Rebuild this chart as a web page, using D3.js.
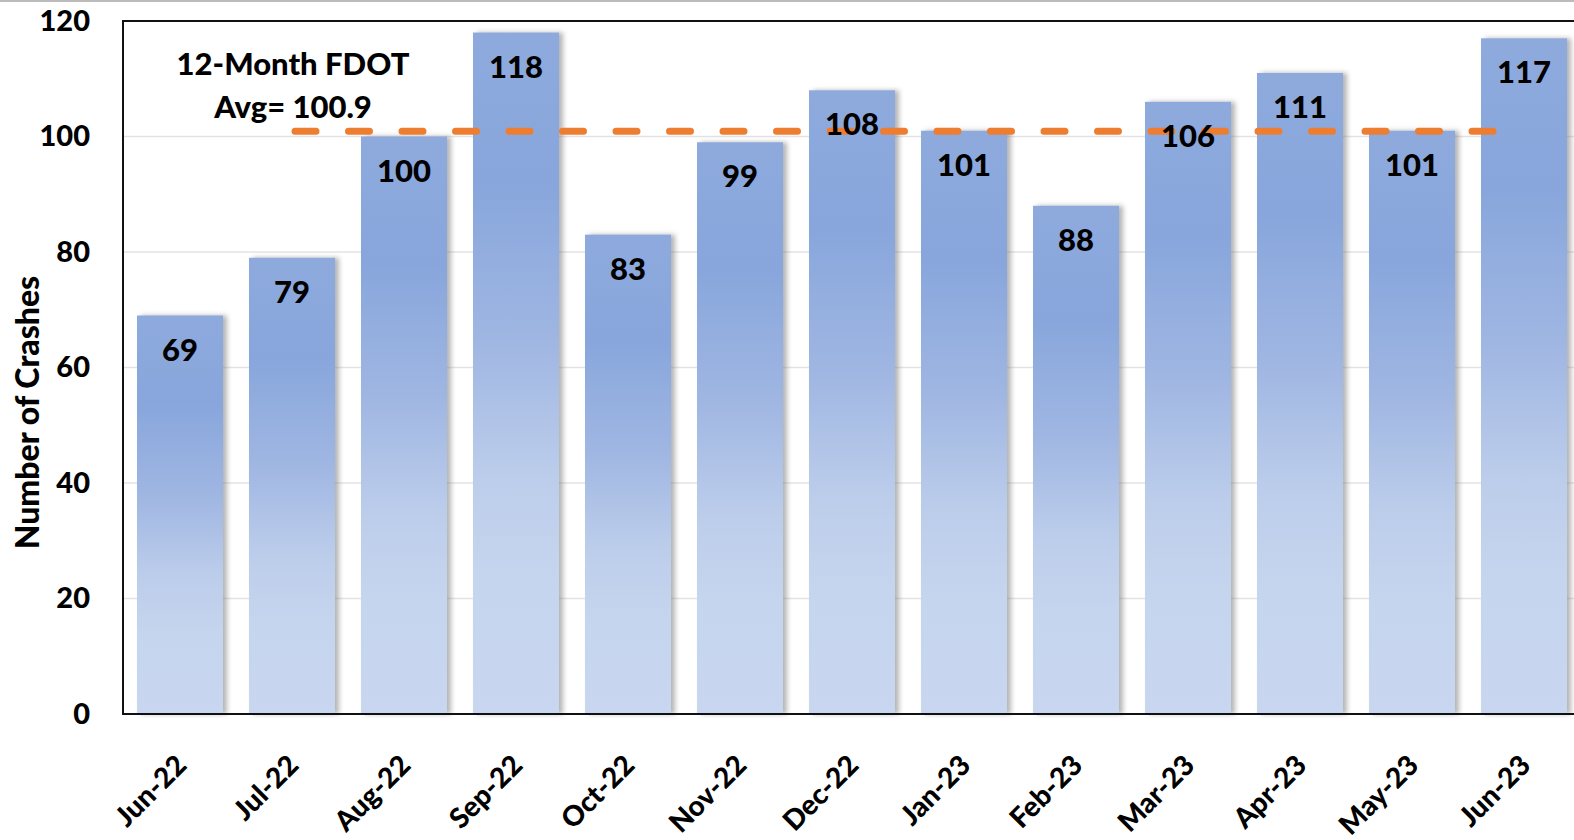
<!DOCTYPE html>
<html lang="en">

<head>
	<meta charset="utf-8">
	<style>
		body {
			margin: 0;
			background-color: white;
		}

		svg {
			font-family: 'Lato', 'Open Sans', sans-serif;
			font-weight: 900;
			display: block;
		}

		.grid line {
			stroke: #e3e3e3;
			stroke-width: 1.5px;
		}

		.frame {
			stroke: #111;
			stroke-width: 2px;
			fill: none;
		}

		.avg-line {
			stroke: #ed7d31;
			stroke-width: 7px;
			stroke-linecap: round;
			stroke-dasharray: 21, 32.5;
		}

		.bar-label,
		.note {
			font-size: 31px;
			fill: #000;
		}
	</style>
</head>

<body>
	<svg width=1574 height=840></svg>
	<script src="https://d3js.org/d3.v7.min.js"></script>
	<script>
		// data
		const months = ["Jun-22", "Jul-22", "Aug-22", "Sep-22", "Oct-22", "Nov-22", "Dec-22",
			"Jan-23", "Feb-23", "Mar-23", "Apr-23", "May-23", "Jun-23"]
		const crashes = [69, 79, 100, 118, 83, 99, 108, 101, 88, 106, 111, 101, 117]
		const yTicks = [0, 20, 40, 60, 80, 100, 120]
		const average = 100.9
		const noteLines = ["12-Month FDOT", "Avg= 100.9"]

		//basic set up
		const width = 1574
		const height = 840
		const margin = { top: 21, bottom: 126, left: 124, right: -6 }

		const svg = d3.select("svg")

		const x = d3.scaleBand()
			.domain(months)
			.range([margin.left, width - margin.right])
			.paddingInner(26 / 112)
			.paddingOuter(13 / 112)

		const y = d3.scaleLinear()
			.domain([0, 120])
			.range([height - margin.bottom, margin.top])

		// gradient + shadow used by the bars
		const defs = svg.append("defs")
		const grad = defs.append("linearGradient")
			.attr("id", "barFill")
			.attr("x1", 0).attr("y1", 0)
			.attr("x2", 0).attr("y2", 1)
		const stops = [
			[0, "#8eaadd"], [0.22, "#88a6dc"], [0.45, "#9fb6e2"],
			[0.65, "#bccdeb"], [0.8, "#c6d5ee"], [1, "#c8d7ef"]
		]
		stops.forEach(s => grad.append("stop").attr("offset", s[0]).attr("stop-color", s[1]))

		const shadow = defs.append("filter")
			.attr("id", "shadow")
			.attr("x", "-10%").attr("y", "-5%")
			.attr("width", "130%").attr("height", "110%")
		shadow.append("feDropShadow")
			.attr("dx", 4).attr("dy", 0)
			.attr("stdDeviation", 2.5)
			.attr("flood-color", "#777")
			.attr("flood-opacity", 0.55)

		// gray page line at top
		svg.append("line")
			.attr("x1", 0).attr("x2", width)
			.attr("y1", 1).attr("y2", 1)
			.attr("stroke", "#bbb")
			.attr("stroke-width", 2)

		// gridlines
		svg.append("g")
			.attr("class", "grid")
			.selectAll("line")
			.data(yTicks.filter(d => d > 0 && d < 120))
			.join("line")
			.attr("x1", margin.left)
			.attr("x2", width)
			.attr("y1", d => y(d))
			.attr("y2", d => y(d))

		// bars
		svg.append("g")
			.selectAll("rect")
			.data(crashes)
			.join("rect")
			.attr("x", (d, i) => x(months[i]))
			.attr("width", x.bandwidth())
			.attr("y", d => y(d))
			.attr("height", d => y(0) - y(d))
			.attr("fill", "url(#barFill)")
			.attr("filter", "url(#shadow)")

		// frame (top, left, bottom)
		svg.append("path")
			.attr("class", "frame")
			.attr("d", `M${width},${y(120)}H${margin.left - 1}V${y(0)}H${width}`)

		// average line
		svg.append("line")
			.attr("class", "avg-line")
			.attr("x1", x(months[1]) + x.bandwidth() / 2 + 3)
			.attr("x2", x(months[12]) + x.bandwidth() / 2)
			.attr("y1", y(average))
			.attr("y2", y(average))

		// value labels
		svg.append("g")
			.selectAll("text")
			.data(crashes)
			.join("text")
			.attr("class", "bar-label")
			.attr("text-anchor", "middle")
			.attr("x", (d, i) => x(months[i]) + x.bandwidth() / 2)
			.attr("y", d => y(d) + 45)
			.text(d => d)

		// note
		svg.append("g")
			.selectAll("text")
			.data(noteLines)
			.join("text")
			.attr("class", "note")
			.attr("text-anchor", "middle")
			.attr("x", 293)
			.attr("y", (d, i) => 75 + i * 43)
			.text(d => d)

		// y axis
		const yAxis = d3.axisLeft(y).tickValues(yTicks).tickSize(0).tickPadding(34)
		svg.append("g")
			.attr("transform", `translate(${margin.left},0)`)
			.call(yAxis)
			.call(g => g.select(".domain").remove())
			.selectAll("text")
			.attr("font-family", "Lato, sans-serif")
			.attr("font-weight", 900)
			.attr("font-size", 29)
			.attr("fill", "#000")

		// x axis
		const xAxis = d3.axisBottom(x).tickSize(0)
		svg.append("g")
			.attr("transform", `translate(0,${y(0)})`)
			.call(xAxis)
			.call(g => g.select(".domain").remove())
			.selectAll("text")
			.attr("font-family", "Lato, sans-serif")
			.attr("font-weight", 900)
			.attr("font-size", 28)
			.attr("fill", "#000")
			.attr("text-anchor", "end")
			.attr("dy", 0)
			.attr("transform", "translate(6,51) rotate(-45)")

		// y axis title
		svg.append("text")
			.attr("text-anchor", "middle")
			.attr("font-size", 32)
			.attr("transform", `translate(39,${(y(0) + y(120)) / 2 + 45}) rotate(-90)`)
			.text("Number of Crashes")
	</script>
</body>

</html>
